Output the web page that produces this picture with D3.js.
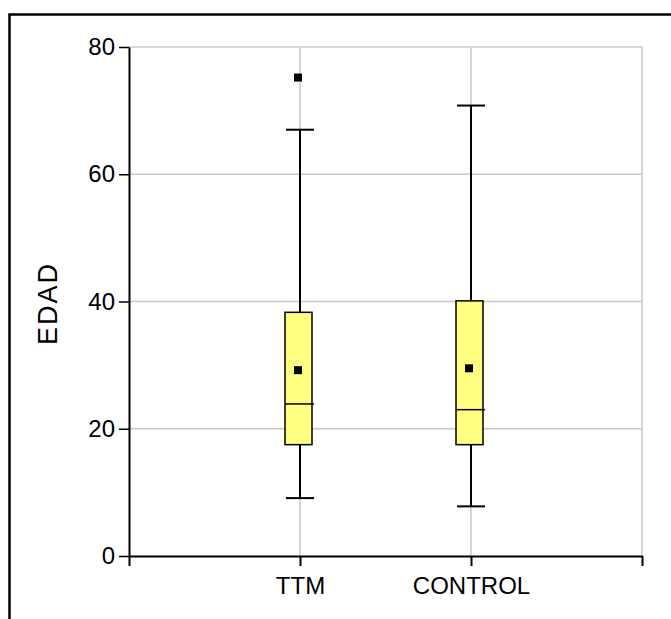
<!DOCTYPE html>
<html><head><meta charset="utf-8">
<script src="https://cdn.jsdelivr.net/npm/d3@7"></script>
<style>body{margin:0;background:#fff;}svg{display:block;font-family:"Liberation Sans",Arial,sans-serif;}</style>
</head><body>
<script>
const categories = ["TTM", "CONTROL"];
const mins = [9.1, 7.8];
const q1s = [17.5, 17.5];
const medians = [23.9, 23.0];
const q3s = [38.3, 40.1];
const maxs = [67.0, 70.8];
const means = [29.2, 29.5];
const outliers = [[75.2], []];
const yTicks = [0, 20, 40, 60, 80];
const yLabel = "EDAD";

const W = 671, H = 619;
const svg = d3.select("body").append("svg").attr("width", W).attr("height", H);

const x0 = 129, x1 = 642, y0 = 556, y1 = 47;
const x = d3.scaleLinear().domain([0, 3]).range([x0, x1]);
const y = d3.scaleLinear().domain([0, 80]).range([y0, y1]);

// frame
svg.append("rect").attr("x", 9.5).attr("y", 14.5).attr("width", 700).attr("height", 700)
  .attr("fill", "none").attr("stroke", "#000").attr("stroke-width", 2.5);

// gridlines
const grid = svg.append("g").attr("stroke", "#c8c8c8").attr("stroke-width", 1.5);
yTicks.filter(t => t > 0).forEach(t => {
  grid.append("line").attr("x1", x0).attr("x2", x1).attr("y1", y(t)).attr("y2", y(t));
});
[1, 2, 3].forEach(i => {
  grid.append("line").attr("x1", x(i)).attr("x2", x(i)).attr("y1", y(80)).attr("y2", y0);
});

// y axis
const yAxis = d3.axisLeft(y).tickValues(yTicks).tickSize(10).tickSizeOuter(0).tickPadding(4);
const gy = svg.append("g").attr("transform", `translate(${x0},0)`).call(yAxis);
gy.select(".domain").attr("stroke-width", 2);
gy.selectAll(".tick line").attr("stroke-width", 1.5);
gy.selectAll("text").attr("font-size", 24).attr("fill", "#000").attr("font-family", "Liberation Sans, Arial, sans-serif");

// x axis
const xAxis = d3.axisBottom(x).tickValues([0, 1, 2, 3]).tickSize(10).tickSizeOuter(0)
  .tickFormat(d => (d >= 1 && d <= categories.length) ? categories[d - 1] : "").tickPadding(11);
const gx = svg.append("g").attr("transform", `translate(0,${y0})`).call(xAxis);
gx.select(".domain").attr("stroke-width", 2);
gx.selectAll(".tick line").attr("stroke-width", 2);
gx.selectAll("text").attr("font-size", 24).attr("fill", "#000").attr("font-family", "Liberation Sans, Arial, sans-serif");

// y label
svg.append("text").attr("transform", `translate(57,${(y0 + y1) / 2 + 2}) rotate(-90)`)
  .attr("text-anchor", "middle").attr("font-size", 27).attr("letter-spacing", 2).text(yLabel);

// boxes
const bw = 27, cw = 28;
categories.forEach((c, i) => {
  const cx = x(i + 1);
  const g = svg.append("g");
  g.append("line").attr("x1", cx).attr("x2", cx).attr("y1", y(maxs[i])).attr("y2", y(q3s[i])).attr("stroke", "#000").attr("stroke-width", 2);
  g.append("line").attr("x1", cx).attr("x2", cx).attr("y1", y(q1s[i])).attr("y2", y(mins[i])).attr("stroke", "#000").attr("stroke-width", 2);
  g.append("line").attr("x1", cx - cw / 2).attr("x2", cx + cw / 2).attr("y1", y(maxs[i])).attr("y2", y(maxs[i])).attr("stroke", "#000").attr("stroke-width", 2);
  g.append("line").attr("x1", cx - cw / 2).attr("x2", cx + cw / 2).attr("y1", y(mins[i])).attr("y2", y(mins[i])).attr("stroke", "#000").attr("stroke-width", 2);
  g.append("rect").attr("x", cx - 15).attr("width", bw).attr("y", y(q3s[i])).attr("height", y(q1s[i]) - y(q3s[i]))
    .attr("fill", "#ffff80").attr("stroke", "#000").attr("stroke-width", 1.5);
  g.append("line").attr("x1", cx - 15).attr("x2", cx + 14).attr("y1", y(medians[i])).attr("y2", y(medians[i])).attr("stroke", "#000").attr("stroke-width", 1.5);
  g.append("rect").attr("x", cx - 6).attr("y", y(means[i]) - 4).attr("width", 8).attr("height", 8).attr("fill", "#000");
  outliers[i].forEach(o => {
    g.append("rect").attr("x", cx - 6).attr("y", y(o) - 4).attr("width", 8).attr("height", 8).attr("fill", "#000");
  });
});
</script>
</body></html>
